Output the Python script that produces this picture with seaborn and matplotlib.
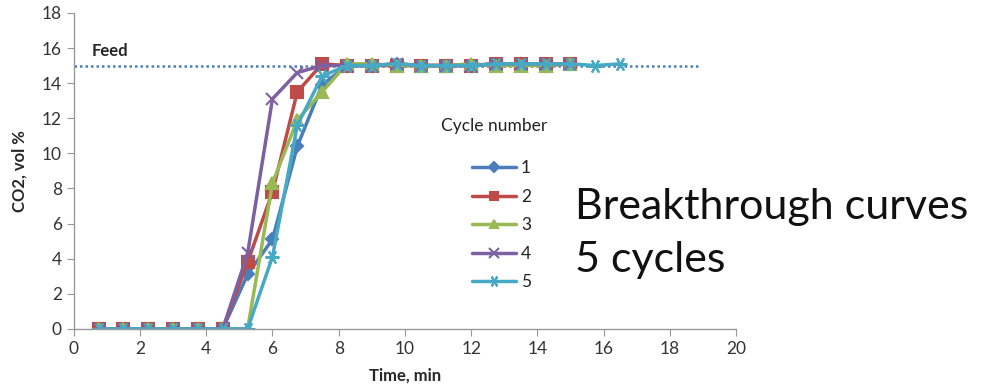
import numpy as np
import pandas as pd
import seaborn as sns
import matplotlib.pyplot as plt

# time points, min
time = [0.75, 1.5, 2.25, 3.0, 3.75, 4.5, 5.25, 6.0, 6.75, 7.5, 8.25,
        9.0, 9.75, 10.5, 11.25, 12.0, 12.75, 13.5, 14.25, 15.0, 15.75, 16.5]

# CO2, vol % for each cycle
cycle1 = [0, 0, 0, 0, 0, 0, 3.1, 5.1, 10.4, 13.9, 15.0,
          15.0, 15.1, 15.0, 15.0, 15.0, 15.1, 15.1, 15.0, 15.1]
cycle2 = [0, 0, 0, 0, 0, 0, 3.8, 7.8, 13.5, 15.1, 15.0,
          15.0, 15.0, 15.0, 15.0, 15.0, 15.1, 15.1, 15.1, 15.1]
cycle3 = [0, 0, 0, 0, 0, 0, 0, 8.3, 11.9, 13.5, 15.1,
          15.1, 15.0, 15.0, 15.0, 15.1, 15.0, 15.0, 15.0, 15.1]
cycle4 = [0, 0, 0, 0, 0, 0, 4.3, 13.1, 14.6, 15.0, 15.0,
          15.0, 15.1, 15.0, 15.0, 15.0, 15.1, 15.1, 15.1, 15.1]
cycle5 = [0, 0, 0, 0, 0, 0, 0, 4.1, 11.6, 14.4, 15.0,
          15.0, 15.1, 15.0, 15.0, 15.0, 15.1, 15.1, 15.1, 15.1, 15.0, 15.1]

feed_x = [0.0, 18.9]
feed_y = [15.0, 15.0]

cycles = ['1', '2', '3', '4', '5']
colors = ['#4A7EBB', '#BE4B48', '#98B954', '#7D60A0', '#46AAC5']
markers = ['D', 's', '^', 'x', (6, 2, 90)]
sizes = [6, 8, 8, 9, 10]

rows = []
for name, vals in zip(cycles, [cycle1, cycle2, cycle3, cycle4, cycle5]):
    for t, v in zip(time, vals):
        rows.append({'Time': t, 'CO2': v, 'Cycle': name})
df = pd.DataFrame(rows)

sns.set_style('white')
plt.rcParams['font.family'] = ['Lato', 'DejaVu Sans']

fig = plt.figure(figsize=(9.84, 3.91), dpi=100)
ax = fig.add_axes([0.075, 0.159, 0.673, 0.808])

# feed level
ax.plot(feed_x, feed_y, color='#4A7EBB', linestyle=(0, (1, 1.2)), linewidth=1.8)
ax.text(0.55, 15.85, 'Feed', fontsize=12, fontweight='bold', va='center')

for name, col, mk, ms in zip(cycles, colors, markers, sizes):
    sub = df[df['Cycle'] == name]
    sns.lineplot(data=sub, x='Time', y='CO2', ax=ax, color=col, marker=mk,
                 markersize=ms, markeredgecolor=col, markeredgewidth=1.5,
                 linewidth=2.5, label=name)

ax.set_xlim(0, 20)
ax.set_ylim(0, 18)
ax.set_xticks(np.arange(0, 21, 2))
ax.set_yticks(np.arange(0, 19, 2))
ax.tick_params(axis='both', labelsize=12.5, colors='#333333', length=5,
               direction='out', bottom=True, left=True, color='#999999')
ax.set_xlabel('Time, min', fontsize=12, fontweight='bold', labelpad=8)
ax.set_ylabel('CO2, vol %', fontsize=12, fontweight='bold', labelpad=10)
for s in ['top', 'right']:
    ax.spines[s].set_visible(False)
for s in ['left', 'bottom']:
    ax.spines[s].set_color('#999999')
    ax.spines[s].set_linewidth(1)

# legend title placed separately, entries below it
ax.text(11.1, 11.57, 'Cycle number', fontsize=12.5, va='center', ha='left',
        color='#222222')
leg = ax.legend(loc='upper left', bbox_transform=fig.transFigure,
                bbox_to_anchor=(0.480, 0.590), frameon=False, fontsize=12.5,
                handlelength=2.5, handletextpad=0.3, labelspacing=0.72,
                borderaxespad=0, borderpad=0, markerscale=0.8)
for t in leg.get_texts():
    t.set_color('#222222')

fig.text(0.584, 0.403, 'Breakthrough curves\n5 cycles', fontsize=31,
         va='center', ha='left', linespacing=1.5, color='#111111')

fig.savefig('out.png', dpi=100)
